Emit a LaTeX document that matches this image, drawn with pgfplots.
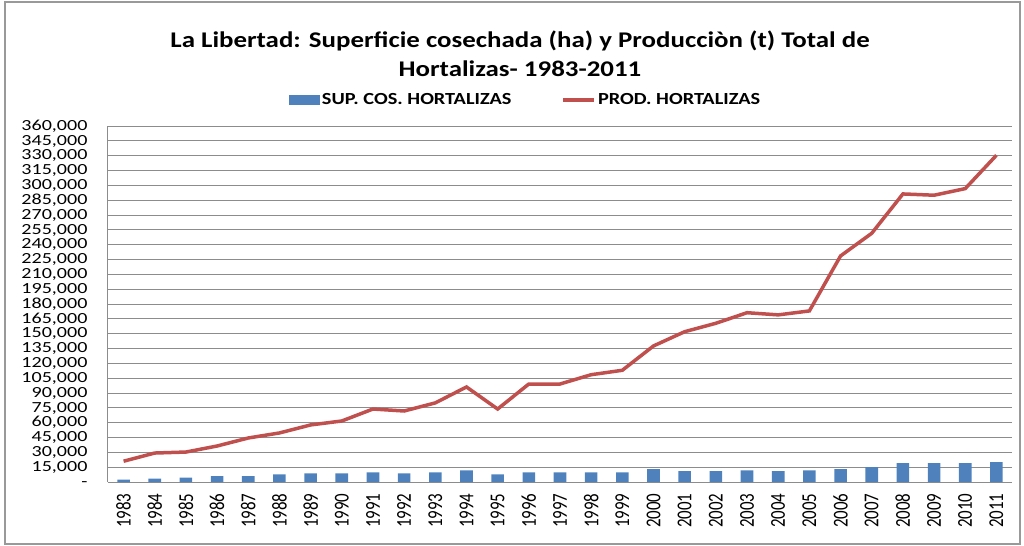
\documentclass[border=0pt]{standalone}
\usepackage{fontspec}
\setmainfont{Carlito}[FakeStretch=1.2]
\newfontfamily\xfont{Carlito}
\newfontfamily\yfont{Carlito}[FakeStretch=1.3]
\usepackage{pgfplots}
\usepackage{pgfplotstable}
\pgfplotsset{compat=1.18}
\definecolor{cBlue}{HTML}{4F81BD}
\definecolor{cRed}{HTML}{C0504D}
\definecolor{cGrid}{HTML}{8C8C8C}

% year, harvested area (ha), production (t)
\pgfplotstableread{
year sup prod
1983 2300 21000
1984 3300 29300
1985 4300 30300
1986 6000 36400
1987 6000 44500
1988 7800 49600
1989 8800 57700
1990 8800 61700
1991 9800 73800
1992 8800 71800
1993 9800 80000
1994 11800 96100
1995 7800 73800
1996 9800 99100
1997 9800 99100
1998 9800 108500
1999 9800 113000
2000 13100 137600
2001 11100 152000
2002 11100 160500
2003 11800 171200
2004 11100 169000
2005 11800 173000
2006 13100 228600
2007 15100 251500
2008 19100 291300
2009 19100 290000
2010 19100 296700
2011 20100 330400
}\datatab

\begin{document}
\begin{tikzpicture}
\begin{axis}[at={(0,0)}, anchor=south west, scale only axis,
  width=904bp, height=356bp,
  xmin=1982.5, xmax=2011.5, ymin=0, ymax=360000,
  xtick={1983,...,2011},
  xticklabels={1983,1984,1985,1986,1987,1988,1989,1990,1991,1992,1993,1994,1995,1996,1997,
    1998,1999,2000,2001,2002,2003,2004,2005,2006,2007,2008,2009,2010,2011},
  ytick={0,15000,...,360000},
  yticklabels={{-},{15,000},{30,000},{45,000},{60,000},{75,000},{90,000},{105,000},{120,000},
    {135,000},{150,000},{165,000},{180,000},{195,000},{210,000},{225,000},{240,000},{255,000},
    {270,000},{285,000},{300,000},{315,000},{330,000},{345,000},{360,000}},
  scaled y ticks=false,
  major tick length=0pt,
  axis x line*=bottom, axis y line*=left,
  axis line style={cGrid, line width=1bp, -},
  ymajorgrids, grid style={cGrid, line width=0.9bp},
  yticklabel style={font=\yfont\fontsize{15.5}{15.5}\selectfont, anchor=east, inner ysep=0pt,
    text height=10bp, text depth=1.5bp, xshift=-17bp},
  xticklabel style={font=\xfont\fontsize{17}{17}\selectfont, rotate=90, yscale=1.25, anchor=east, xshift=-8bp},
  legend style={at={(0.462,1.073)}, anchor=center, draw=none, fill=none,
    legend columns=2, font=\bfseries\fontsize{17}{17}\selectfont,
    /tikz/every even column/.append style={column sep=48bp}},
]
\addplot[ybar, bar width=12.6bp, fill=cBlue, draw=none,
  legend image code/.code={\fill[cBlue] (0bp,-5bp) rectangle (31bp,5bp);}]
  table[x=year, y=sup]{\datatab};
\addlegendentry{SUP. COS. HORTALIZAS}
\addplot[cRed, line width=3.5bp, mark=none,
  legend image code/.code={\draw[cRed, line width=3.5bp] (0bp,0bp) -- (31bp,0bp);}]
  table[x=year, y=prod]{\datatab};
\addlegendentry{PROD. HORTALIZAS}
\end{axis}
\node[font=\bfseries\fontsize{22.5}{22.5}\selectfont, align=center] at (412bp,428bp)
  {La Libertad: Superficie cosechada (ha) y Producci\`on (t) Total de\\[7bp] Hortalizas- 1983-2011};
\draw[gray!80, line width=1.5bp] (-103bp,-62bp) rectangle (912bp,480bp);
\pgfresetboundingbox
\useasboundingbox (-108bp,-64bp) rectangle (916bp,482bp);
\end{tikzpicture}
\end{document}
